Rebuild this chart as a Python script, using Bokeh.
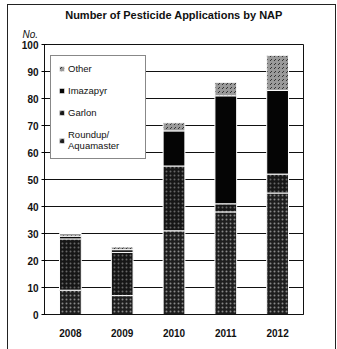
from bokeh.plotting import figure
from bokeh.models import Legend, LegendItem, FixedTicker, InlineStyleSheet, Title
from bokeh.embed import file_html
from bokeh.resources import INLINE

years = ["2008", "2009", "2010", "2011", "2012"]
roundup = [9, 7, 31, 38, 45]
garlon = [19, 16, 24, 3, 7]
imazapyr = [1, 1, 13, 40, 31]
other = [1, 1, 3, 5, 13]
series_names = ["Roundup/\nAquamaster", "Garlon", "Imazapyr", "Other"]
y_ticks = list(range(0, 101, 10))

p = figure(x_range=years, y_range=(0, 100), width=327, height=344,
           output_backend="svg", toolbar_location=None,
           min_border_left=36, min_border_right=32, min_border_top=0,
           min_border_bottom=35, background_fill_color="white",
           border_fill_color="white", title=None)
p.stylesheets = [InlineStyleSheet(
    css=":host { margin-left: 8px; margin-top: 5px; outline: 1px solid #222; }")]

p.add_layout(Title(text="No.", align="left", offset=-22, text_font="Liberation Sans",
                   text_font_size="10px", text_font_style="italic",
                   text_color="#111111", standoff=9), "above")
p.add_layout(Title(text="Number of Pesticide Applications by NAP", align="center",
                   text_font="Liberation Sans", text_font_size="11px",
                   text_font_style="bold", text_color="#111111", standoff=3,
                   offset=4), "above")

data = dict(roundup=roundup, garlon=garlon, imazapyr=imazapyr, other=other)
keys = ["roundup", "garlon", "imazapyr", "other"]
fills = ["#1e1e1e", "#161616", "#050505", "#9a9a9a"]
hatches = [".", ".", None, ","]
hatch_cols = ["#8a8a8a", "#666666", None, "#333333"]
renderers = []
bottom = [0] * len(years)
for k, f, h, hc in zip(keys, fills, hatches, hatch_cols):
    vals = data[k]
    top = [b + v for b, v in zip(bottom, vals)]
    kw = dict(x=years, bottom=bottom, top=top, width=0.42,
              fill_color=f, line_color="white", line_width=1)
    if h:
        kw.update(hatch_pattern=h, hatch_color=hc, hatch_scale=4, hatch_weight=1)
    r = p.vbar(**kw)
    renderers.append(r)
    bottom = top

items = [LegendItem(label=n, renderers=[r]) for n, r in zip(series_names, renderers)]
items.reverse()
legend = Legend(items=items, location=(6, 155), label_text_font="Liberation Sans",
                label_text_font_size="9.5px", label_text_color="#111111",
                glyph_width=7, glyph_height=7, label_standoff=3, spacing=11,
                padding=7, margin=0, border_line_color="#111111", border_line_width=1,
                background_fill_alpha=1, label_height=9, label_width=70)
p.add_layout(legend, "center")

p.ygrid.grid_line_color = "#111111"
p.ygrid.grid_line_width = 1
p.xgrid.grid_line_color = None
p.yaxis.ticker = FixedTicker(ticks=y_ticks)
p.outline_line_color = "#111111"
p.outline_line_width = 1

for ax in (p.xaxis, p.yaxis):
    ax.axis_line_color = "#111111"
    ax.major_label_text_font = "Liberation Sans"
    ax.major_label_text_font_size = "10px"
    ax.major_label_text_font_style = "bold"
    ax.major_label_text_color = "#111111"
    ax.minor_tick_line_color = None
p.yaxis.major_tick_in = 2
p.yaxis.major_tick_out = 3
p.yaxis.major_label_standoff = 3
p.xaxis.major_tick_line_color = None
p.xaxis.major_label_standoff = 8

open("out.html", "w").write(file_html(p, INLINE))
